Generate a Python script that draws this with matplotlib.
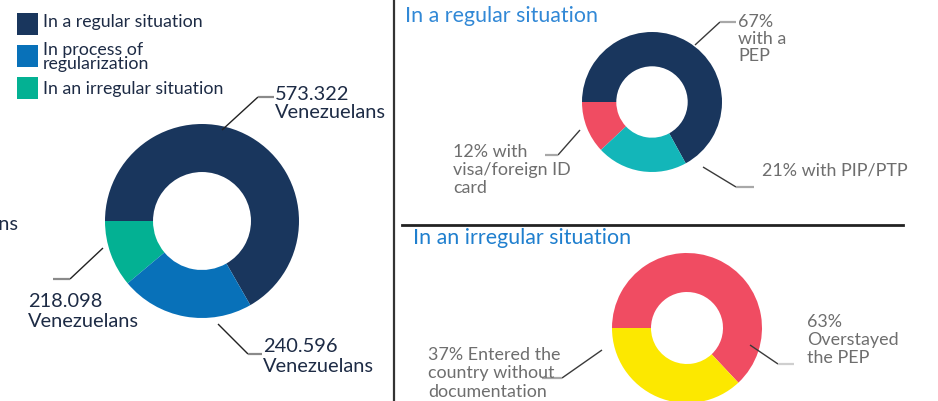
import matplotlib
matplotlib.use("Agg")
import matplotlib.pyplot as plt
from matplotlib.patches import Rectangle

# ---------------- data ----------------
main_categories = ["In a regular situation", "In an irregular situation", "In process of regularization"]
main_shares = [66.7, 11.1, 22.2]          # slice shares as drawn
main_labels = ["573.322\nVenezuelans", "218.098\nVenezuelans", "240.596\nVenezuelans"]

regular_categories = ["with a PEP", "with visa/foreign ID card", "with PIP/PTP"]
regular_shares = [67, 12, 21]

irregular_categories = ["Overstayed the PEP", "Entered the country without documentation"]
irregular_shares = [63, 37]

legend_labels = ["In a regular situation", "In process of\nregularization", "In an irregular situation"]

# ---------------- styles ----------------
NAVY = "#19365d"
BLUE = "#0871b9"
TEAL = "#03b193"
RED = "#f04c62"
TEAL2 = "#13b6b9"
YELLOW = "#fce800"
DARK_TXT = "#1d2b45"
GRAY_TXT = "#6e6e6e"
TITLE_BLUE = "#3188d6"

W, H = 938, 401
plt.rcParams['font.family'] = ['Lato', 'DejaVu Sans']
fig = plt.figure(figsize=(W / 100, H / 100), dpi=100)
fig.patch.set_facecolor("white")


def pie_axes(cx, cy, r):
    return fig.add_axes([(cx - r) / W, (H - cy - r) / H, 2 * r / W, 2 * r / H])


def donut(cx, cy, r, shares, colors, width):
    ax = pie_axes(cx, cy, r)
    start = 180 - shares[0] / sum(shares) * 360
    ax.pie(shares, colors=colors, startangle=start, counterclock=True,
           radius=1, wedgeprops=dict(width=width, edgecolor="none"))
    ax.set_xlim(-1, 1)
    ax.set_ylim(-1, 1)
    ax.set_axis_off()
    return ax


donut(202, 221, 97, main_shares, [NAVY, TEAL, BLUE], 0.495)
donut(652, 102, 70, regular_shares, [NAVY, RED, TEAL2], 0.49)
donut(687, 328, 75, irregular_shares, [RED, YELLOW], 0.52)

# overlay in pixel coordinates
ov = fig.add_axes([0, 0, 1, 1], zorder=10)
ov.set_xlim(0, W)
ov.set_ylim(H, 0)
ov.patch.set_alpha(0)
ov.set_axis_off()


def lines_text(x, baselines, text, size, color, ha="left"):
    for yb, line in zip(baselines, text.split("\n")):
        ov.text(x, yb, line, fontsize=size, color=color, ha=ha, va="baseline")


def leader(pts, dark="#3a3a3a", light="#a8a8a8"):
    (x0, y0), (x1, y1), (x2, y2) = pts
    ov.plot([x0, x1], [y0, y1], color=dark, lw=1.0, solid_capstyle="butt")
    ov.plot([x1, x2], [y1, y2], color=light, lw=1.6, solid_capstyle="butt")


# dividers
ov.plot([394, 394], [0, H], color="#333333", lw=1.6)
ov.plot([402, 903], [225, 225], color="#222222", lw=2.0)

# legend
legend_colors = [NAVY, BLUE, TEAL]
sq = [(13, 35), (44.5, 67), (77, 99)]
for (y0, y1), c in zip(sq, legend_colors):
    ov.add_patch(Rectangle((17, y0), 21, y1 - y0, color=c, lw=0))
LEG = 12.8
lines_text(43, [27], legend_labels[0], LEG, DARK_TXT)
lines_text(43, [55, 69.5], legend_labels[1], LEG, DARK_TXT)
lines_text(43, [94], legend_labels[2], LEG, DARK_TXT)

# main labels
MAIN = 14.4
lines_text(275, [99.5, 118.5], main_labels[0], MAIN, DARK_TXT)
leader([(222, 130), (258, 97), (274, 97)], dark="#222222", light="#8a8a8a")
lines_text(28, [307, 327], main_labels[1], MAIN, DARK_TXT)
leader([(103, 248), (70, 279), (53, 279)], dark="#222222", light="#8a8a8a")
lines_text(263, [352, 372], main_labels[2], MAIN, DARK_TXT)
leader([(218, 324), (248, 354), (262, 354)], dark="#222222", light="#8a8a8a")
# truncated label at left edge
lines_text(19, [230], "Venezuelans", MAIN, DARK_TXT, ha="right")

# titles
ov.text(405, 22, "In a regular situation", fontsize=15.4, color=TITLE_BLUE, va="baseline")
ov.text(413, 244, "In an irregular situation", fontsize=15.4, color="#1f7fce", va="baseline")

# regular situation labels
SIDE = 12.9
lines_text(738, [27, 44, 61], "67%\nwith a\nPEP", SIDE, GRAY_TXT)
leader([(695, 45), (720, 22), (736, 22)])
lines_text(453, [157, 175, 193], "12% with\nvisa/foreign ID\ncard", SIDE, GRAY_TXT)
leader([(580, 130), (558, 155), (545, 155)])
lines_text(762, [175], "21% with PIP/PTP", SIDE, GRAY_TXT)
leader([(703, 167), (736, 187), (754, 187)])

# irregular situation labels
lines_text(807, [327, 345, 363], "63%\nOverstayed\nthe PEP", SIDE, GRAY_TXT)
leader([(750, 345), (778, 364), (794, 364)], light="#cfcfcf")
lines_text(428, [360, 378, 397], "37% Entered the\ncountry without\ndocumentation", SIDE, GRAY_TXT)
leader([(602, 350), (562, 378), (542, 378)])

fig.savefig("out.png", dpi=100, facecolor="white")
